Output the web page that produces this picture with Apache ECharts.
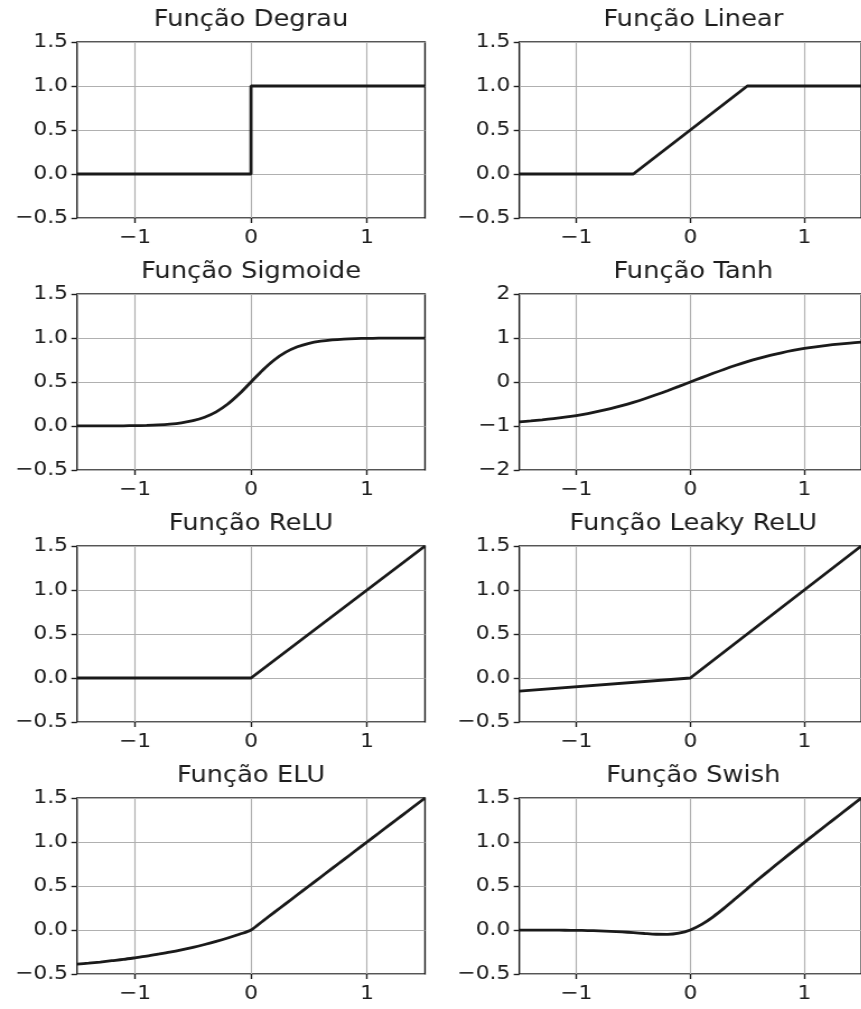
<!DOCTYPE html>
<html>
<head>
<meta charset="utf-8">
<script src="https://cdn.jsdelivr.net/npm/echarts@6/dist/echarts.min.js"></script>
<style>
  html, body { margin: 0; padding: 0; background: #fff; overflow: hidden; width: 861px; height: 1009px; }
  #chart { position: absolute; left: 0; top: 0; height: 1009px; transform-origin: 0 0; }
</style>
</head>
<body>
<div id="chart"></div>
<script>
// Panel titles, in drawing order (row by row, left to right)
const titles = [
  'Função Degrau', 'Função Linear',
  'Função Sigmoide', 'Função Tanh',
  'Função ReLU', 'Função Leaky ReLU',
  'Função ELU', 'Função Swish'
];

// Shared x samples for the smooth curves
const xs = [-1.5, -1.4, -1.3, -1.2, -1.1, -1.0, -0.9, -0.8, -0.7, -0.6, -0.5, -0.4, -0.3, -0.2, -0.1,
            0, 0.1, 0.2, 0.3, 0.4, 0.5, 0.6, 0.7, 0.8, 0.9, 1.0, 1.1, 1.2, 1.3, 1.4, 1.5];

const sigmoidY = [0.0003, 0.0005, 0.0008, 0.0014, 0.0024, 0.0041, 0.0070, 0.0121, 0.0208, 0.0356, 0.0601,
                  0.0998, 0.1611, 0.2497, 0.3659, 0.5, 0.6341, 0.7503, 0.8389, 0.9002, 0.9399, 0.9644,
                  0.9792, 0.9879, 0.9930, 0.9959, 0.9976, 0.9986, 0.9992, 0.9995, 0.9997];

const tanhY = [-0.9051, -0.8854, -0.8617, -0.8337, -0.8005, -0.7616, -0.7163, -0.6640, -0.6044, -0.5370,
               -0.4621, -0.3799, -0.2913, -0.1974, -0.0997, 0, 0.0997, 0.1974, 0.2913, 0.3799, 0.4621,
               0.5370, 0.6044, 0.6640, 0.7163, 0.7616, 0.8005, 0.8337, 0.8617, 0.8854, 0.9051];

const eluY = [-0.388, -0.377, -0.364, -0.349, -0.334, -0.316, -0.297, -0.275, -0.252, -0.226, -0.197,
              -0.165, -0.130, -0.091, -0.048, 0, 0.1, 0.2, 0.3, 0.4, 0.5, 0.6, 0.7, 0.8, 0.9, 1.0,
              1.1, 1.2, 1.3, 1.4, 1.5];

const swishY = [-0.0004, -0.0006, -0.0010, -0.0016, -0.0026, -0.0041, -0.0063, -0.0097, -0.0146, -0.0214,
                -0.0300, -0.0399, -0.0483, -0.0499, -0.0366, 0, 0.0634, 0.1501, 0.2517, 0.3601, 0.4700,
                0.5786, 0.6854, 0.7903, 0.8937, 0.9959, 1.0974, 1.1983, 1.2990, 1.3994, 1.4996];

// Piecewise-linear functions: breakpoints only
const stepX = [-1.5, 0, 0, 1.5];
const stepY = [0, 0, 1, 1];
const linearX = [-1.5, -0.5, 0.5, 1.5];
const linearY = [0, 0, 1, 1];
const reluX = [-1.5, 0, 1.5];
const reluY = [0, 0, 1.5];
const leakyX = [-1.5, 0, 1.5];
const leakyY = [-0.15, 0, 1.5];

// Tick values
const xTicks = [-1, 0, 1];
const yRangeDefault = [-0.5, 1.5, 0.5];
const yRangeTanh = [-2, 2, 1];

const pair = (x, y) => x.map((v, i) => [v, y[i]]);
const panels = [
  { data: pair(stepX, stepY), smooth: false, y: yRangeDefault, dec: 1 },
  { data: pair(linearX, linearY), smooth: false, y: yRangeDefault, dec: 1 },
  { data: pair(xs, sigmoidY), smooth: true, y: yRangeDefault, dec: 1 },
  { data: pair(xs, tanhY), smooth: true, y: yRangeTanh, dec: 0 },
  { data: pair(reluX, reluY), smooth: false, y: yRangeDefault, dec: 1 },
  { data: pair(leakyX, leakyY), smooth: false, y: yRangeDefault, dec: 1 },
  { data: pair(xs, eluY), smooth: true, y: yRangeDefault, dec: 1 },
  { data: pair(xs, swishY), smooth: true, y: yRangeDefault, dec: 1 }
];

// Layout (page pixels); the canvas is widened horizontally by STRETCH
const STRETCH = 1.12;
const PAGE_W = 861;
const colLeft = [77, 519.3];
const plotW = 348;
const rowTop = [42, 294, 546, 798];
const plotH = 176;

const INK = '#1e1e1e';
const FONT = 'DejaVu Sans';
const TICK_SIZE = 19.5;
const TITLE_SIZE = 23;

const fmt = (v, dec) => (v < 0 ? '\u2212' : '') + Math.abs(v).toFixed(dec);

const el = document.getElementById('chart');
el.style.width = (PAGE_W / STRETCH) + 'px';
el.style.transform = 'scaleX(' + STRETCH + ')';
const chart = echarts.init(el, null, { renderer: 'canvas' });

const grid = [], xAxis = [], yAxis = [], series = [], graphic = [];
panels.forEach((p, i) => {
  const r = Math.floor(i / 2), c = i % 2;
  const left = colLeft[c] / STRETCH;
  const width = plotW / STRETCH;
  grid.push({
    left: left, top: rowTop[r], width: width, height: plotH,
    show: true, borderColor: INK, borderWidth: 1.4, backgroundColor: 'transparent',
    containLabel: false
  });
  xAxis.push({
    type: 'value', gridIndex: i, min: -1.5, max: 1.5,
    axisLine: { show: false, onZero: false },
    axisTick: { show: true, customValues: xTicks, length: 5, lineStyle: { color: INK, width: 1.4 } },
    axisLabel: { customValues: xTicks, color: INK, fontFamily: FONT, fontSize: TICK_SIZE, margin: 10,
                 formatter: v => fmt(v, 0) },
    splitLine: { show: true, lineStyle: { color: '#b0b0b0', width: 1.15 } }
  });
  yAxis.push({
    type: 'value', gridIndex: i, min: p.y[0], max: p.y[1], interval: p.y[2],
    axisLine: { show: false, onZero: false },
    axisTick: { show: true, length: 5, lineStyle: { color: INK, width: 1.4 } },
    axisLabel: { color: INK, fontFamily: FONT, fontSize: TICK_SIZE, margin: 8,
                 formatter: v => fmt(v, p.dec) },
    splitLine: { show: true, lineStyle: { color: '#b0b0b0', width: 1.2 } }
  });
  series.push({
    type: 'line', xAxisIndex: i, yAxisIndex: i, data: p.data,
    smooth: p.smooth ? 0.3 : false, showSymbol: false, clip: true,
    lineStyle: { color: '#1a1a1a', width: 2.8 }, z: 5
  });
  graphic.push({
    type: 'text', x: left + width / 2, y: rowTop[r] - 22, silent: true,
    style: { text: titles[i], fill: INK, font: TITLE_SIZE + 'px "' + FONT + '"',
             align: 'center', verticalAlign: 'middle' }
  });
});

chart.setOption({
  animation: false,
  backgroundColor: '#ffffff',
  grid, xAxis, yAxis, series, graphic
});
</script>
</body>
</html>
